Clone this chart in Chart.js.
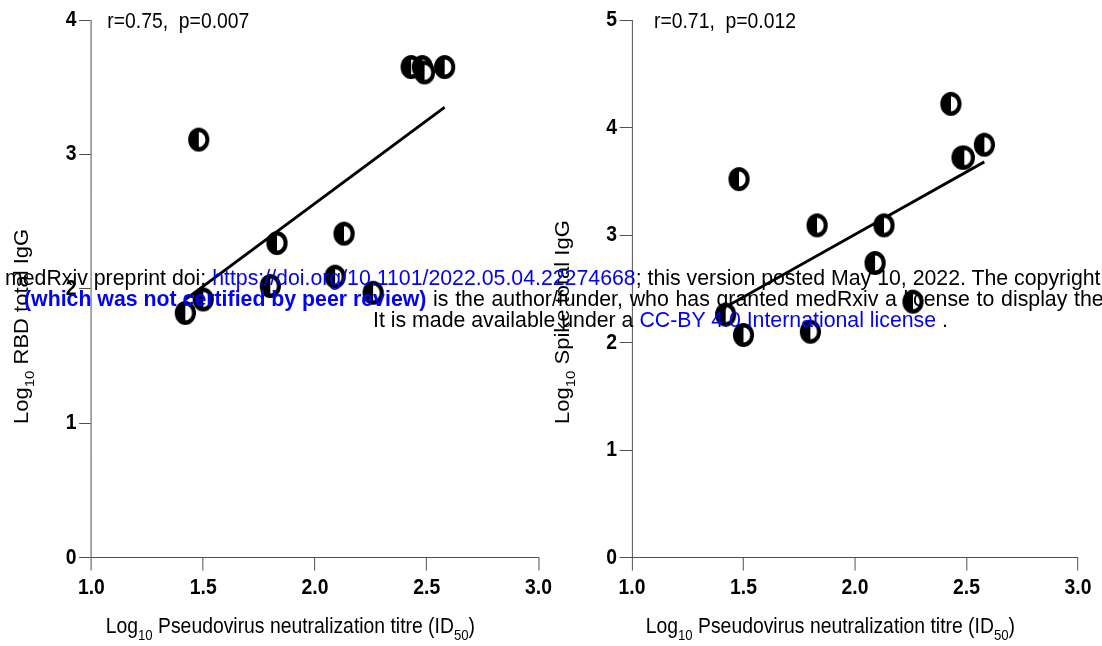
<!DOCTYPE html>
<html>
<head>
<meta charset="utf-8">
<script src="https://cdn.jsdelivr.net/npm/chart.js@4.4.1/dist/chart.umd.min.js"></script>
<style>
  html, body { margin: 0; padding: 0; background: #fff; overflow: hidden; width: 1102px; height: 646px; }
  canvas { position: absolute; top: 0; }
  #chartRBD { left: 0; }
  #chartSpike { left: 551px; }
  .wm { position: absolute; white-space: nowrap; font-family: "Liberation Sans", Arial, sans-serif; font-size: 21.3px; line-height: 22px; color: #000; z-index: 5; }
  .blue { color: #0000ff; }
  .bold { font-weight: bold; }
  .ancho { word-spacing: 0.8px; }
</style>
</head>
<body>
<canvas id="chartRBD" width="640" height="646"></canvas>
<canvas id="chartSpike" width="640" height="646"></canvas>

<div class="wm" style="left:5px; top:267px;">medRxiv preprint doi: <span class="blue">https://doi.org/10.1101/2022.05.04.22274668</span>; this version posted May 10, 2022. The copyright holder for this preprint</div>
<div class="wm" style="left:24px; top:288px;"><span class="blue bold">(which was not certified by peer review)</span><span class="ancho"> is the author/funder, who has granted medRxiv a license to display the preprint in perpetuity.</span></div>
<div class="wm" style="left:373px; top:309px;">It is made available under a <span class="blue">CC-BY 4.0 International license</span> .</div>

<script>
// datos
const titre = [1.42, 1.48, 1.50, 1.80, 1.83, 2.09, 2.13, 2.26, 2.43, 2.48, 2.49, 2.58];
const rbdIgG = [1.82, 3.11, 1.92, 2.02, 2.34, 2.09, 2.41, 1.97, 3.65, 3.65, 3.61, 3.65];
const spikeIgG = [2.26, 3.52, 2.07, 2.10, 3.09, 2.74, 3.09, 2.38, 4.22, 3.72, 3.72, 3.84];

const fitX = [1.42, 2.58];
const rbdFitY = [1.92, 3.35];
const spikeFitY = [2.33, 3.68];

const xTicks = [1.0, 1.5, 2.0, 2.5, 3.0];
const rbdYTicks = [0, 1, 2, 3, 4];
const spikeYTicks = [0, 1, 2, 3, 4, 5];

const rbdStat = "r=0.75,  p=0.007";
const spikeStat = "r=0.71,  p=0.012";

// la figura original esta comprimida en horizontal
const K = 0.88;
const FONT = '"Liberation Sans", Arial, sans-serif';
const MAIN_FONT = `22px ${FONT}`;
const SUB_FONT = `15px ${FONT}`;
const AXIS = "#444";

function crearMarcador() {
  const c = document.createElement("canvas");
  c.width = 28;
  c.height = 28;
  const g = c.getContext("2d");
  const r = 9.8;
  g.fillStyle = "#fff";
  g.beginPath();
  g.arc(14, 14, r, 0, Math.PI * 2);
  g.fill();
  g.fillStyle = "#000";
  g.beginPath();
  g.arc(14, 14, r, Math.PI / 2, Math.PI * 1.5);
  g.fill();
  g.lineWidth = 4.5;
  g.strokeStyle = "#000";
  g.beginPath();
  g.arc(14, 14, r, 0, Math.PI * 2);
  g.stroke();
  return c;
}

function textoConSubindice(ctx, partes, x, y, centrado) {
  const medidas = partes.map((p) => {
    ctx.font = p.sub ? SUB_FONT : MAIN_FONT;
    return ctx.measureText(p.t).width;
  });
  const total = medidas.reduce((a, b) => a + b, 0);
  let cx = centrado ? x - total / 2 : x;
  ctx.textAlign = "left";
  ctx.textBaseline = "alphabetic";
  ctx.fillStyle = "#000";
  partes.forEach((p, i) => {
    ctx.font = p.sub ? SUB_FONT : MAIN_FONT;
    ctx.fillText(p.t, cx, y + (p.sub ? 7 : 0));
    cx += medidas[i];
  });
}

const compresion = {
  id: "compresion",
  beforeDraw(chart) {
    chart.ctx.save();
    chart.ctx.scale(K, 1);
  },
  afterDraw(chart, args, opts) {
    const ctx = chart.ctx;
    const a = chart.chartArea;

    // titulo eje x
    textoConSubindice(
      ctx,
      [
        { t: "Log" },
        { t: "10", sub: true },
        { t: " Pseudovirus neutralization titre (ID" },
        { t: "50", sub: true },
        { t: ")" },
      ],
      (a.left + a.right) / 2 - 28,
      633,
      true
    );

    // titulo eje y
    ctx.save();
    ctx.translate(a.left - 72, 424);
    ctx.rotate(-Math.PI / 2);
    textoConSubindice(ctx, [{ t: "Log" }, { t: "10", sub: true }, { t: " " + opts.yTitle }], 0, 0, false);
    ctx.restore();

    // r y p
    ctx.font = MAIN_FONT;
    ctx.fillStyle = "#000";
    ctx.textAlign = "left";
    ctx.textBaseline = "alphabetic";
    ctx.fillText(opts.stat, a.left + opts.statOffset, 28);

    ctx.restore();
  },
};

function pintarGrafico(id, valores, ajusteY, yTicks, areaLeft, areaRight, extra) {
  const ctx = document.getElementById(id);
  const tickFont = { family: FONT, size: 22, weight: "bold" };

  const cfg = {
    type: "scatter",
    data: {
      datasets: [
        {
          data: titre.map((x, i) => ({ x: x, y: valores[i] })),
          pointStyle: crearMarcador(),
          pointRadius: 12,
          clip: false,
          order: 0,
        },
        {
          type: "line",
          data: fitX.map((x, i) => ({ x: x, y: ajusteY[i] })),
          borderColor: "#000",
          borderWidth: 3,
          pointRadius: 0,
          fill: false,
          showLine: true,
          order: 1,
        },
      ],
    },
    options: {
      responsive: false,
      animation: false,
      events: [],
      layout: {
        padding: { left: 0, right: 640 - areaRight, top: 20, bottom: 0 },
      },
      plugins: {
        legend: { display: false },
        tooltip: { enabled: false },
        compresion: extra,
      },
      scales: {
        x: {
          type: "linear",
          min: xTicks[0],
          max: xTicks[xTicks.length - 1],
          afterBuildTicks: (s) => {
            s.ticks = xTicks.map((v) => ({ value: v }));
          },
          afterFit: (s) => {
            s.height = 646 - 557.5;
          },
          grid: { drawOnChartArea: false, drawTicks: true, tickLength: 13, color: AXIS, lineWidth: 1 },
          border: { display: true, color: AXIS, width: 1 },
          ticks: {
            color: "#000",
            font: tickFont,
            padding: 4,
            maxRotation: 0,
            autoSkip: false,
            callback: (v) => Number(v).toFixed(1),
          },
        },
        y: {
          type: "linear",
          min: yTicks[0],
          max: yTicks[yTicks.length - 1],
          afterBuildTicks: (s) => {
            s.ticks = yTicks.map((v) => ({ value: v }));
          },
          afterFit: (s) => {
            s.width = areaLeft;
          },
          grid: { drawOnChartArea: false, drawTicks: true, tickLength: 14, color: AXIS, lineWidth: 1 },
          border: { display: true, color: AXIS, width: 1 },
          ticks: {
            color: "#000",
            font: tickFont,
            padding: 3,
            autoSkip: false,
            callback: (v) => String(v),
          },
        },
      },
    },
    plugins: [compresion],
  };

  return new Chart(ctx, cfg);
}

pintarGrafico("chartRBD", rbdIgG, rbdFitY, rbdYTicks, 103.9, 612.0, {
  yTitle: "RBD total IgG",
  stat: rbdStat,
  statOffset: 18,
});

pintarGrafico("chartSpike", spikeIgG, spikeFitY, spikeYTicks, 92.0, 598.9, {
  yTitle: "Spike total IgG",
  stat: spikeStat,
  statOffset: 25,
});
</script>
</body>
</html>
